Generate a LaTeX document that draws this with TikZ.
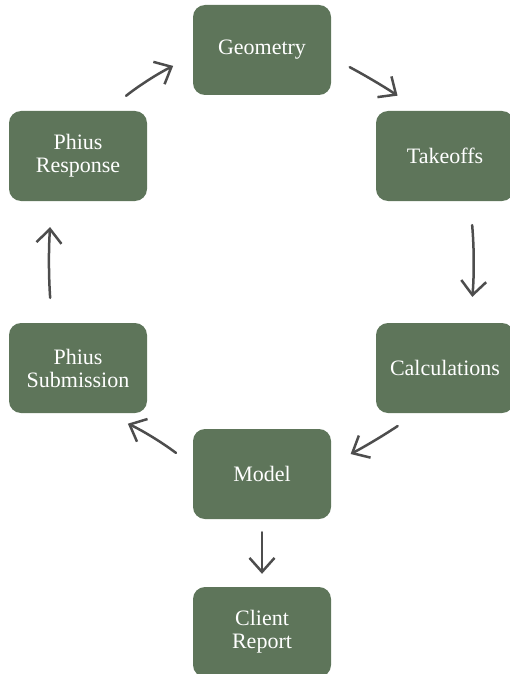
\documentclass[tikz,border=0pt]{standalone}
\usepackage{fontspec}
\setmainfont{Liberation Serif}
\usetikzlibrary{positioning, arrows.meta}

\definecolor{boxgreen}{RGB}{94,117,90}
\definecolor{arrowgray}{RGB}{77,77,77}

\begin{document}
\begin{tikzpicture}[
    x=1pt, y=-1pt,          % 1 pt = 1 px（y は下向き）
    >={Straight Barb[length=14pt, width=25pt]},
    % 緑の角丸ボックス
    stage/.style={
        rectangle, rounded corners=12pt, fill=boxgreen,
        minimum width=138pt, minimum height=90pt,
        text=white, align=center,
        font=\fontsize{22}{23}\selectfont
    },
    % 手書き風の灰色の矢印
    flow/.style={->, draw=arrowgray, line width=2.5pt, line cap=round}
]

    \useasboundingbox (0,0) rectangle (510,674);

    % --- 1. 各工程のボックス ---
    \node [stage] (geom)   at (262,50)  {Geometry};
    \node [stage] (take)   at (445,156) {Takeoffs};
    \node [stage] (calc)   at (445,368) {Calculations};
    \node [stage] (model)  at (262,474) {Model};
    \node [stage] (report) at (262,632) {Client\\Report};
    \node [stage] (sub)    at (78,368)  {Phius\\Submission};
    \node [stage] (resp)   at (78,156)  {Phius\\Response};

    % --- 2. 工程をつなぐ矢印 ---
    \draw [flow, shorten <=24pt, shorten >=22pt] (resp.57)   to[bend left=6]  (geom.185);
    \draw [flow, shorten <=21pt, shorten >=27pt] (geom.-6)   to[bend left=3]  (take.119);
    \draw [flow, shorten <=24pt, shorten >=26pt] (take.-61)  to[bend left=5]  (calc.61);
    \draw [flow, shorten <=23pt, shorten >=22pt] (calc.238)  to[bend left=3]  (model.8);
    \draw [flow, shorten <=21pt, shorten >=25pt] (model.173) to[bend right=6] (sub.-59);
    \draw [flow, shorten <=25pt, shorten >=26pt] (sub.120)   to[bend left=4]  (resp.-120);
    \draw [flow, shorten <=13pt, shorten >=13pt] (model.south) -- (report.north);

\end{tikzpicture}
\end{document}
